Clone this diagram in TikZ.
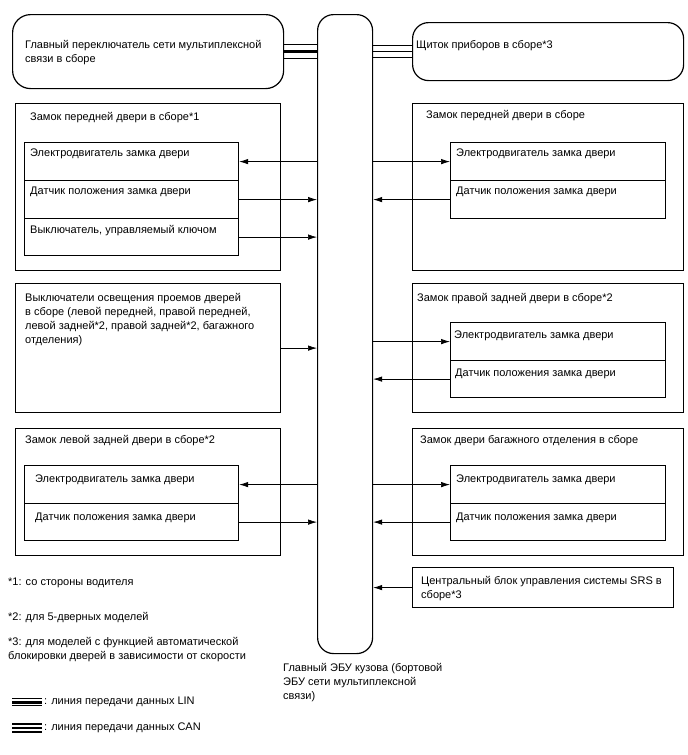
\documentclass[tikz,border=0pt]{standalone}
\usepackage{fontspec}
\setmainfont{Liberation Sans}
\usetikzlibrary{arrows.meta}

\tikzset{
  box/.style={draw, line width=1.2pt, inner sep=0, anchor=north west},
  rbox/.style={box, rounded corners=16pt},
  txt/.style={inner sep=0, anchor=north west, align=left, font=\fontsize{11}{14}\selectfont},
  sig/.style={line width=0.7pt, -{Latex[length=9pt,width=5.5pt]}},
}

\begin{document}
\begin{tikzpicture}[x=1pt, y=-1pt]
    \useasboundingbox (0,0) rectangle (688,755);

    % body ECU
    \node[rbox, minimum width=55pt, minimum height=639pt] (ecu) at (317,14) {};
    \node[txt] (ecu-t) at ([shift={(-34,8.5)}]ecu.south west) {Главный ЭБУ кузова (бортовой\\ЭБУ сети мультиплексной\\связи)};

    % top units
    \node[rbox, rounded corners=18pt, minimum width=271pt, minimum height=74pt] (msw) at (12,14) {};
    \node[txt] (msw-t) at ([shift={(13,26.5)}]msw.north west) {Главный переключатель сети мультиплексной\\связи в сборе};
    \node[rbox, minimum width=271pt, minimum height=58pt] (cmb) at (412,22) {};
    \node[txt] (cmb-t) at ([shift={(4,18.5)}]cmb.north west) {Щиток приборов в сборе*3};

    \coordinate (msw-in) at (ecu.west |- msw.east);
    \coordinate (cmb-in) at (ecu.east |- cmb.west);
    \foreach \d/\w in {7/0.8pt, 0/3pt, -7/0.8pt}
        \draw[line width=\w] ([yshift=\d pt]msw.east) -- ([yshift=\d pt]msw-in);
    \foreach \d in {6, 0, -6}
        \draw[line width=1.3pt] ([yshift=\d pt]cmb-in) -- ([yshift=\d pt]cmb.west);

    % front left door lock
    \node[box, minimum width=265pt, minimum height=167pt] (fl) at (15,103) {};
    \node[txt] (fl-t) at ([shift={(15,9.5)}]fl.north west) {Замок передней двери в сборе*1};
    \node[box, minimum width=214pt, minimum height=38pt] (fl-m) at (24,142) {};
    \node[box, minimum width=214pt, minimum height=38pt] (fl-s) at (24,180) {};
    \node[box, minimum width=214pt, minimum height=37pt] (fl-k) at (24,218) {};
    \node[txt] (fl-mt) at ([shift={(6,6.5)}]fl-m.north west) {Электродвигатель замка двери};
    \node[txt] (fl-st) at ([shift={(6,7)}]fl-s.north west) {Датчик положения замка двери};
    \node[txt] (fl-kt) at ([shift={(6,7.5)}]fl-k.north west) {Выключатель, управляемый ключом};
    \draw[sig] (ecu.west |- fl-m.east) -- (fl-m.east);
    \draw[sig] (fl-s.east) -- (ecu.west |- fl-s.east);
    \draw[sig] (fl-k.east) -- (ecu.west |- fl-k.east);

    % front right door lock
    \node[box, minimum width=271pt, minimum height=167pt] (fr) at (412,103) {};
    \node[txt] (fr-t) at ([shift={(14,7.5)}]fr.north west) {Замок передней двери в сборе};
    \node[box, minimum width=215pt, minimum height=38pt] (fr-m) at (450,142) {};
    \node[box, minimum width=215pt, minimum height=38pt] (fr-s) at (450,180) {};
    \node[txt] (fr-mt) at ([shift={(6,6.5)}]fr-m.north west) {Электродвигатель замка двери};
    \node[txt] (fr-st) at ([shift={(6,7)}]fr-s.north west) {Датчик положения замка двери};
    \draw[sig] (ecu.east |- fr-m.west) -- (fr-m.west);
    \draw[sig] (fr-s.west) -- (ecu.east |- fr-s.west);

    % courtesy light switches
    \node[box, minimum width=265pt, minimum height=129pt] (dsw) at (15,283) {};
    \node[txt] (dsw-t) at ([shift={(10,10.5)}]dsw.north west) {Выключатели освещения проемов дверей\\в сборе (левой передней, правой передней,\\левой задней*2, правой задней*2, багажного\\отделения)};
    \draw[sig] (dsw.east) -- (ecu.west |- dsw.east);

    % rear right door lock
    \node[box, minimum width=271pt, minimum height=129pt] (rr) at (412,283) {};
    \node[txt] (rr-t) at ([shift={(5,10.5)}]rr.north west) {Замок правой задней двери в сборе*2};
    \node[box, minimum width=215pt, minimum height=38pt] (rr-m) at (450,322) {};
    \node[box, minimum width=215pt, minimum height=37pt] (rr-s) at (450,360) {};
    \node[txt] (rr-mt) at ([shift={(4,8.5)}]rr-m.north west) {Электродвигатель замка двери};
    \node[txt] (rr-st) at ([shift={(5,8.5)}]rr-s.north west) {Датчик положения замка двери};
    \draw[sig] (ecu.east |- rr-m.west) -- (rr-m.west);
    \draw[sig] (rr-s.west) -- (ecu.east |- rr-s.west);

    % rear left door lock
    \node[box, minimum width=265pt, minimum height=127pt] (rl) at (15,428) {};
    \node[txt] (rl-t) at ([shift={(10,7.5)}]rl.north west) {Замок левой задней двери в сборе*2};
    \node[box, minimum width=214pt, minimum height=38pt] (rl-m) at (24,465) {};
    \node[box, minimum width=214pt, minimum height=37pt] (rl-s) at (24,503) {};
    \node[txt] (rl-mt) at ([shift={(11,9.5)}]rl-m.north west) {Электродвигатель замка двери};
    \node[txt] (rl-st) at ([shift={(11,9.5)}]rl-s.north west) {Датчик положения замка двери};
    \draw[sig] (ecu.west |- rl-m.east) -- (rl-m.east);
    \draw[sig] (rl-s.east) -- (ecu.west |- rl-s.east);

    % back door lock
    \node[box, minimum width=271pt, minimum height=127pt] (bd) at (412,428) {};
    \node[txt] (bd-t) at ([shift={(8,7.5)}]bd.north west) {Замок двери багажного отделения в сборе};
    \node[box, minimum width=215pt, minimum height=38pt] (bd-m) at (450,465) {};
    \node[box, minimum width=215pt, minimum height=37pt] (bd-s) at (450,503) {};
    \node[txt] (bd-mt) at ([shift={(6,9.5)}]bd-m.north west) {Электродвигатель замка двери};
    \node[txt] (bd-st) at ([shift={(6,9.5)}]bd-s.north west) {Датчик положения замка двери};
    \draw[sig] (ecu.east |- bd-m.west) -- (bd-m.west);
    \draw[sig] (bd-s.west) -- (ecu.east |- bd-s.west);

    % airbag sensor
    \node[box, minimum width=261pt, minimum height=40pt] (srs) at (412,567) {};
    \node[txt] (srs-t) at ([shift={(9,9.5)}]srs.north west) {Центральный блок управления системы SRS в\\сборе*3};
    \draw[sig] (srs.west) -- (ecu.east |- srs.west);

    % notes
    \node[txt] (n1) at (8,578) {*1: со стороны водителя};
    \node[txt] (n2) at (8,612) {*2: для 5-дверных моделей};
    \node[txt] (n3) at (8,637.5) {*3: для моделей с функцией автоматической\\блокировки дверей в зависимости от скорости};

    % legend
    \coordinate (lin-a) at (12,702);
    \coordinate (lin-b) at (42,702);
    \foreach \d/\w in {3.5/0.8pt, 0/3pt, -3.5/0.8pt}
        \draw[line width=\w] ([yshift=\d pt]lin-a) -- ([yshift=\d pt]lin-b);
    \node[txt, anchor=west] (lin-t) at ([xshift=2pt]lin-b) {: линия передачи данных LIN};
    \coordinate (can-a) at (12,728);
    \coordinate (can-b) at (42,728);
    \foreach \d in {4, 0, -4}
        \draw[line width=1.6pt] ([yshift=\d pt]can-a) -- ([yshift=\d pt]can-b);
    \node[txt, anchor=west] (can-t) at ([xshift=2pt]can-b) {: линия передачи данных CAN};
\end{tikzpicture}
\end{document}
